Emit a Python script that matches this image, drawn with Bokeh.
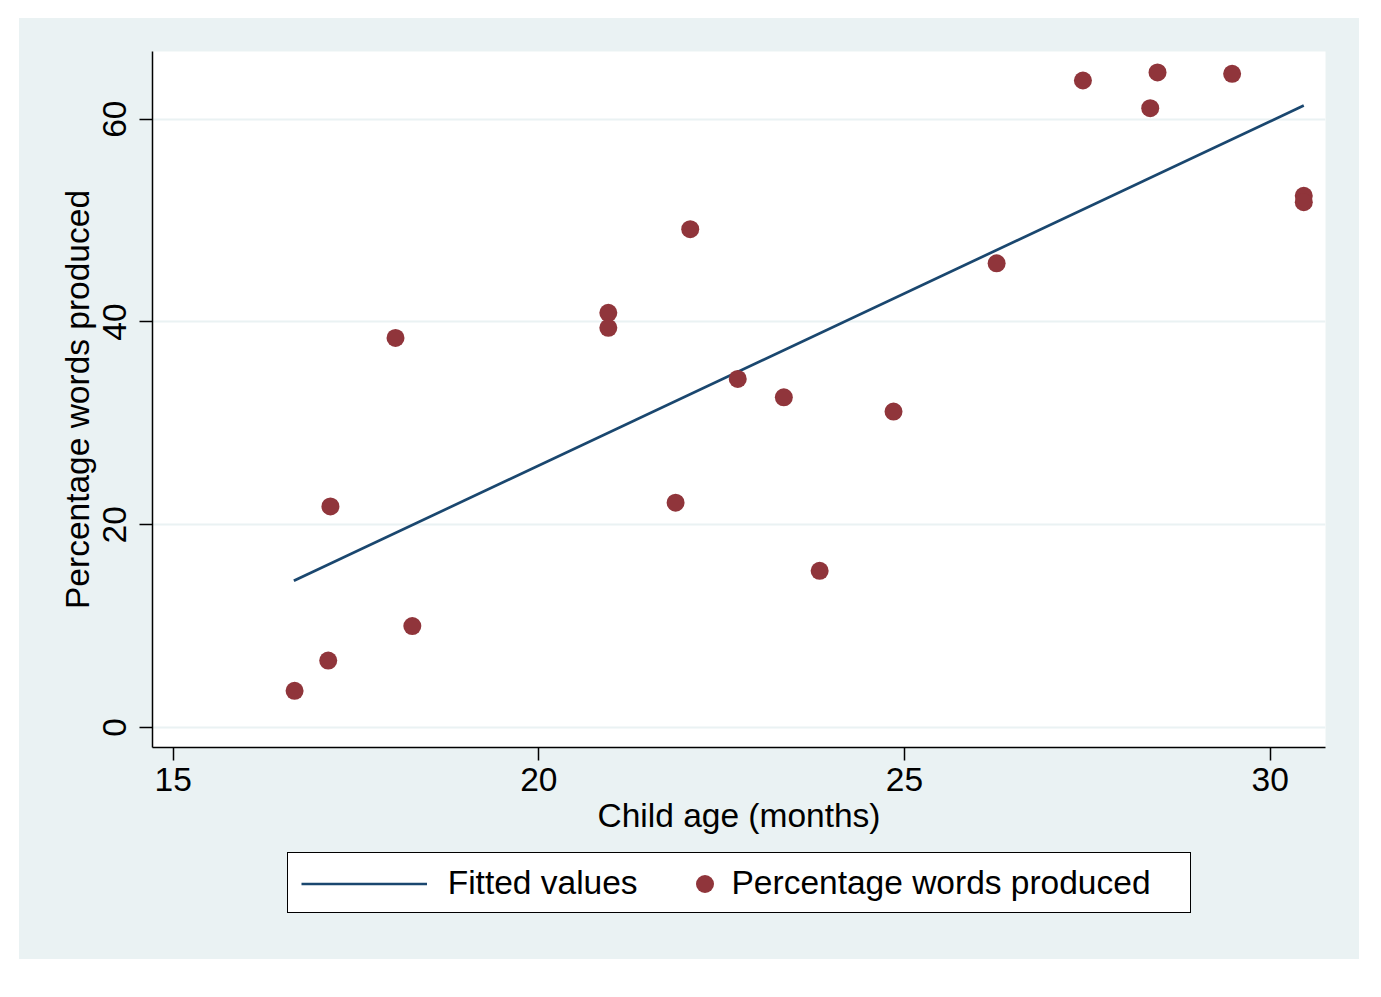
from bokeh.plotting import figure
from bokeh.layouts import column
from bokeh.models import Range1d, FixedTicker, Legend, LegendItem
from bokeh.embed import file_html
from bokeh.resources import INLINE

# ---- data ----
age = [16.66, 17.12, 17.15, 18.04, 18.27, 20.95, 20.95, 21.87, 22.07, 22.72,
       23.35, 23.84, 24.85, 26.26, 27.44, 28.36, 28.46, 29.48, 30.46, 30.46]
pct = [3.62, 6.61, 21.81, 38.43, 10.01, 40.90, 39.42, 22.18, 49.15, 34.38,
       32.57, 15.46, 31.16, 45.79, 63.82, 61.09, 64.61, 64.48, 52.44, 51.81]
fit_age = [16.65, 30.46]
fit_pct = [14.48, 61.35]
x_ticks = [15, 20, 25, 30]
y_ticks = [0, 20, 40, 60]
x_title = "Child age (months)"
y_title = "Percentage words produced"
legend_labels = ["Fitted values", "Percentage words produced"]

FONT = "Liberation Sans"
FS = "33.5px"
BG = "#EAF2F3"
NAVY = "#1A476F"
MAROON = "#90353B"
W = 1340

# ---------------- main plot ----------------
p = figure(width=W, height=832, output_backend="svg", toolbar_location=None,
           x_range=Range1d(14.717, 30.757), y_range=Range1d(-1.97, 66.68),
           min_border_left=133, min_border_right=34, min_border_top=33,
           min_border_bottom=103)
p.background_fill_color = "white"
p.border_fill_color = BG
p.outline_line_color = None

p.xgrid.visible = False
p.ygrid.grid_line_color = BG
p.ygrid.grid_line_width = 2

for ax, ticks, title in ((p.xaxis[0], x_ticks, x_title), (p.yaxis[0], y_ticks, y_title)):
    ax.ticker = FixedTicker(ticks=ticks)
    ax.minor_tick_line_color = None
    ax.major_tick_in = 0
    ax.major_tick_out = 13
    ax.major_tick_line_width = 1.5
    ax.major_tick_line_color = "black"
    ax.axis_line_width = 1.5
    ax.axis_line_color = "black"
    ax.major_label_text_font = FONT
    ax.major_label_text_font_size = FS
    ax.major_label_text_color = "black"
    ax.axis_label = title
    ax.axis_label_text_font = FONT
    ax.axis_label_text_font_size = FS
    ax.axis_label_text_font_style = "normal"
    ax.axis_label_text_color = "black"

p.xaxis.major_label_standoff = 7
p.xaxis.axis_label_standoff = 3
p.yaxis.major_label_orientation = "vertical"
p.yaxis.major_label_standoff = 13
p.yaxis.axis_label_standoff = 5

p.line(fit_age, fit_pct, line_color=NAVY, line_width=2.7)
p.scatter(age, pct, size=18, fill_color=MAROON, line_color=None)

# ---------------- legend strip ----------------
q = figure(width=W, height=109, output_backend="svg", toolbar_location=None,
           x_range=Range1d(0, 1), y_range=Range1d(0, 1),
           x_axis_type=None, y_axis_type=None,
           min_border_left=133, min_border_right=34, min_border_top=0,
           min_border_bottom=0)
q.background_fill_color = None
q.border_fill_color = BG
q.outline_line_color = None
q.grid.visible = False

# legend keys: off-range points so the keys take the series styles
fit_key = q.line(x=[-10, -9], y=[-10, -9], line_color=NAVY, line_width=2.7)
pts_key = q.scatter(x=[-10], y=[-10], size=18, fill_color=MAROON, line_color=None)
box_key = q.line(x=[-10, -9], y=[-10, -9], line_alpha=0)

leg_box = Legend(items=[LegendItem(label=" ", renderers=[box_key])],
                 location=(134.7, 46.3), orientation="horizontal",
                 padding=0, spacing=0, label_standoff=0,
                 glyph_width=902, glyph_height=59,
                 label_width=0, label_height=0,
                 label_text_font_size="1px",
                 border_line_color="black", border_line_width=1.5,
                 border_line_alpha=1.0,
                 background_fill_color="white", background_fill_alpha=1.0)

leg_a = Legend(items=[LegendItem(label=legend_labels[0], renderers=[fit_key])],
               location=(148.7, 46.3), orientation="horizontal",
               padding=0, spacing=0, label_standoff=21,
               glyph_width=126, glyph_height=59,
               label_text_font=FONT, label_text_font_size=FS,
               label_text_color="black",
               border_line_color=None, background_fill_alpha=0)

leg_b = Legend(items=[LegendItem(label=legend_labels[1], renderers=[pts_key])],
               location=(529.5, 46.3), orientation="horizontal",
               padding=0, spacing=0, label_standoff=5,
               glyph_width=45, glyph_height=59,
               label_text_font=FONT, label_text_font_size=FS,
               label_text_color="black",
               border_line_color=None, background_fill_alpha=0)

q.add_layout(leg_box)
q.add_layout(leg_a)
q.add_layout(leg_b)

page = column(p, q, spacing=0)
page.margin = (18, 0, 0, 19)
page.styles = {"background-color": BG}

open("out.html", "w").write(file_html(page, INLINE))
